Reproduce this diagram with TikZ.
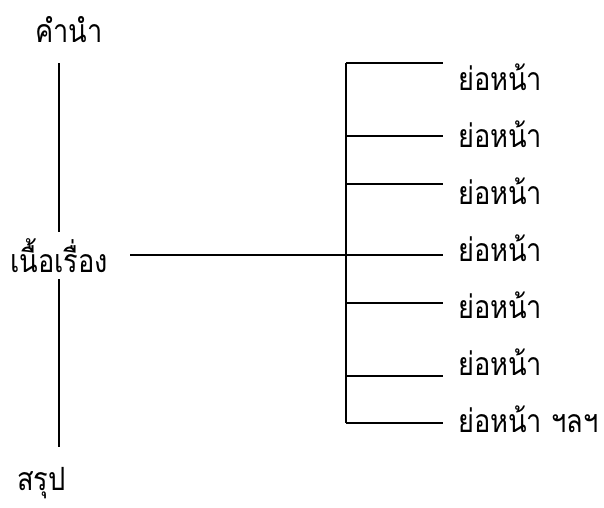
\documentclass[tikz,border=0pt]{standalone}
\usepackage{fontspec}
\newfontfamily\thaifont[Script=Thai,FakeStretch=0.85]{Loma}
\tikzset{
  txt/.style={inner sep=0pt, anchor=base west, font=\thaifont\fontsize{32}{36}\selectfont},
  ln/.style={line width=1.7pt}
}

\begin{document}
\begin{tikzpicture}[x=1pt, y=-1pt]
\useasboundingbox (0,0) rectangle (604,507);
\node[txt] (k) at (35,42) {คำนำ};
\node[txt] (n) at (10,272) {เนื้อเรื่อง};
\node[txt] (s) at (17,490) {สรุป};
\node[txt] (p1) at (458,90) {ย่อหน้า};
\node[txt] (p2) at (458,147) {ย่อหน้า};
\node[txt] (p3) at (458,204) {ย่อหน้า};
\node[txt] (p4) at (458,261) {ย่อหน้า};
\node[txt] (p5) at (458,318) {ย่อหน้า};
\node[txt] (p6) at (458,375) {ย่อหน้า};
\node[txt] (p7) at (458,432) {ย่อหน้า ฯลฯ};
\coordinate (kb) at (59,63);
\coordinate (nt) at (59,232);
\coordinate (nb) at (59,279);
\coordinate (sb) at (59,447);
\coordinate (m) at (130,255);
\coordinate (b1) at (346,63);
\coordinate (b2) at (346,136);
\coordinate (b3) at (346,184);
\coordinate (b4) at (346,255);
\coordinate (b5) at (346,303);
\coordinate (b6) at (346,376);
\coordinate (b7) at (346,423);
\coordinate (e1) at (443,63);
\coordinate (e2) at (443,136);
\coordinate (e3) at (443,184);
\coordinate (e4) at (443,255);
\coordinate (e5) at (443,303);
\coordinate (e6) at (443,376);
\coordinate (e7) at (443,423);
\draw[ln] (kb) -- (nt);
\draw[ln] (nb) -- (sb);
\draw[ln] (m) -- (e4);
\draw[ln] (b1) -- (b7);
\draw[ln] (b1) -- (e1);
\draw[ln] (b2) -- (e2);
\draw[ln] (b3) -- (e3);
\draw[ln] (b5) -- (e5);
\draw[ln] (b6) -- (e6);
\draw[ln] (b7) -- (e7);
\end{tikzpicture}
\end{document}
